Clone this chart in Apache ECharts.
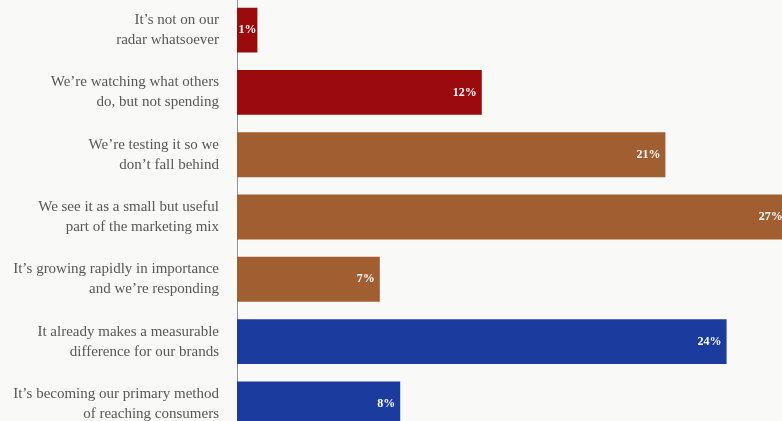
<!DOCTYPE html>
<html>
<head>
<meta charset="utf-8">
<style>
html,body{margin:0;padding:0;background:#f9f9f7;}
#chart{width:782px;height:421px;}
</style>
<script src="https://cdn.jsdelivr.net/npm/echarts@6/dist/echarts.min.js"></script>
</head>
<body>
<div id="chart"></div>
<script>
const categories = [
  "It’s not on our\nradar whatsoever",
  "We’re watching what others\ndo, but not spending",
  "We’re testing it so we\ndon’t fall behind",
  "We see it as a small but useful\npart of the marketing mix",
  "It’s growing rapidly in importance\nand we’re responding",
  "It already makes a measurable\ndifference for our brands",
  "It’s becoming our primary method\nof reaching consumers"
];
const values = [1, 12, 21, 27, 7, 24, 8];
const groups = ["red", "red", "brown", "brown", "brown", "blue", "blue"];
const groupColors = { red: "#9b0b0e", brown: "#a15e30", blue: "#1b3b9e" };

const chart = echarts.init(document.getElementById('chart'), null, { renderer: 'canvas' });
chart.setOption({
  backgroundColor: '#f9f9f7',
  animation: false,
  grid: { left: 237, width: 561, top: -1, height: 436, containLabel: false, outerBoundsMode: 'none' },
  xAxis: {
    type: 'value', min: 0, max: 27.5,
    show: false
  },
  yAxis: {
    type: 'category',
    data: categories,
    inverse: true,
    axisLine: { show: true, lineStyle: { color: '#8d929c', width: 1 } },
    axisTick: { show: false },
    splitLine: { show: false },
    axisLabel: {
      margin: 18,
      color: '#575757',
      fontFamily: 'Liberation Serif, DejaVu Serif, serif',
      fontSize: 15,
      lineHeight: 20,
      align: 'right'
    }
  },
  series: [{
    type: 'bar',
    data: values.map((v, i) => ({
      value: v,
      itemStyle: { color: groupColors[groups[i]] },
      label: v < 2 ? { distance: 1 } : undefined
    })),
    barCategoryGap: '28%',
    clip: false,
    label: {
      show: true,
      position: 'insideRight',
      distance: 5,
      formatter: p => p.value + '%',
      color: '#ffffff',
      fontFamily: 'Liberation Serif, DejaVu Serif, serif',
      fontWeight: 'bold',
      fontSize: 12
    }
  }]
});
</script>
</body>
</html>
